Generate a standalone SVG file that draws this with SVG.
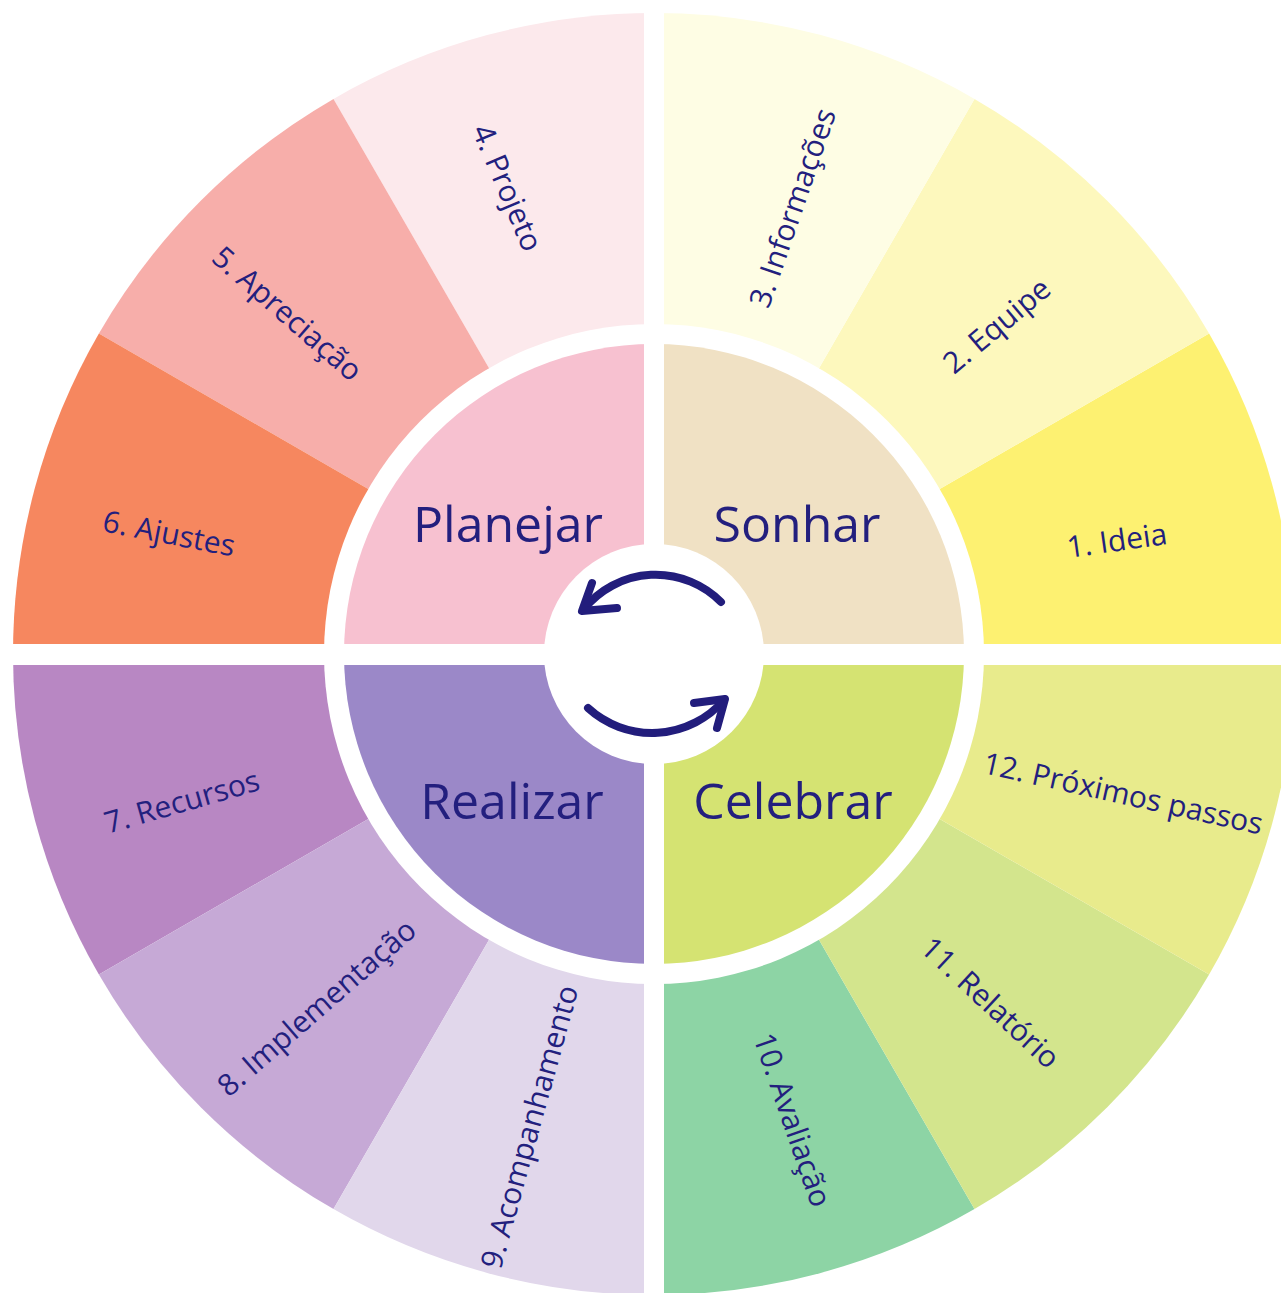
<svg xmlns="http://www.w3.org/2000/svg" width="1281" height="1293" viewBox="0 0 1281 1293">
  <style>
    .lbl { font-family: "Open Sans", "Noto Sans", "DejaVu Sans", sans-serif; font-size: 30px; fill: #231f7e; text-anchor: middle; }
    .big { font-family: "Open Sans", "Noto Sans", "DejaVu Sans", sans-serif; font-size: 50px; fill: #231f7e; text-anchor: middle; }
    .arrow { fill: none; stroke: #221d7c; stroke-width: 8; stroke-linecap: round; stroke-linejoin: round; }
    .gap { fill: #ffffff; }
  </style>
  <rect x="0" y="0" width="1281" height="1293" fill="#ffffff"/>

  <!-- outer wedges -->
  <g id="step-1">
    <path d="M654 654 L1295 654 A641 641 0 0 0 1209.1 333.5 Z" fill="#fdf171"/>
  </g>
  <g id="step-2">
    <path d="M654 654 L1209.1 333.5 A641 641 0 0 0 974.5 98.9 Z" fill="#fdf8bd"/>
  </g>
  <g id="step-3">
    <path d="M654 654 L974.5 98.9 A641 641 0 0 0 654 13 Z" fill="#fefde4"/>
  </g>
  <g id="step-4">
    <path d="M654 654 L654 13 A641 641 0 0 0 333.5 98.9 Z" fill="#fce9ec"/>
  </g>
  <g id="step-5">
    <path d="M654 654 L333.5 98.9 A641 641 0 0 0 98.9 333.5 Z" fill="#f7aeaa"/>
  </g>
  <g id="step-6">
    <path d="M654 654 L98.9 333.5 A641 641 0 0 0 13 654 Z" fill="#f6875f"/>
  </g>
  <g id="step-7">
    <path d="M654 654 L13 654 A641 641 0 0 0 98.9 974.5 Z" fill="#b887c3"/>
  </g>
  <g id="step-8">
    <path d="M654 654 L98.9 974.5 A641 641 0 0 0 333.5 1209.1 Z" fill="#c6a9d6"/>
  </g>
  <g id="step-9">
    <path d="M654 654 L333.5 1209.1 A641 641 0 0 0 654 1295 Z" fill="#e1d7eb"/>
  </g>
  <g id="step-10">
    <path d="M654 654 L654 1295 A641 641 0 0 0 974.5 1209.1 Z" fill="#8dd4a5"/>
  </g>
  <g id="step-11">
    <path d="M654 654 L974.5 1209.1 A641 641 0 0 0 1209.1 974.5 Z" fill="#d3e58d"/>
  </g>
  <g id="step-12">
    <path d="M654 654 L1209.1 974.5 A641 641 0 0 0 1295 654 Z" fill="#e8eb8c"/>
  </g>

  <!-- white ring -->
  <circle cx="654" cy="654" r="330" fill="#ffffff"/>

  <!-- inner quadrants -->
  <g id="sonhar">
    <path d="M654 654 L964 654 A310 310 0 0 0 654 344 Z" fill="#f0e1c4"/>
  </g>
  <g id="planejar">
    <path d="M654 654 L654 344 A310 310 0 0 0 344 654 Z" fill="#f7c1d0"/>
  </g>
  <g id="realizar">
    <path d="M654 654 L344 654 A310 310 0 0 0 654 964 Z" fill="#9b88c8"/>
  </g>
  <g id="celebrar">
    <path d="M654 654 L654 964 A310 310 0 0 0 964 654 Z" fill="#d5e372"/>
  </g>

  <!-- center hole and separating gaps -->
  <circle cx="654" cy="654" r="110" fill="#ffffff"/>
  <rect class="gap" x="644" y="0" width="20" height="1293"/>
  <rect class="gap" x="0" y="644" width="1281" height="21"/>

  <!-- labels -->
  <g id="labels-outer">
    <text class="lbl" transform="translate(1117 541) rotate(-8)" y="10">1. Ideia</text>
    <text class="lbl" transform="translate(997 326) rotate(-40)" y="10">2. Equipe</text>
    <text class="lbl" transform="translate(793 208) rotate(-71)" y="10">3. Informações</text>
    <text class="lbl" transform="translate(507 188) rotate(67)" y="10">4. Projeto</text>
    <text class="lbl" transform="translate(287 314) rotate(41)" y="10">5. Apreciação</text>
    <text class="lbl" transform="translate(169 534) rotate(11)" y="10">6. Ajustes</text>
    <text class="lbl" transform="translate(182 802) rotate(-16)" y="10">7. Recursos</text>
    <text class="lbl" transform="translate(317 1008) rotate(-41)" y="10">8. Implementação</text>
    <text class="lbl" transform="translate(530 1127) rotate(-74.5)" y="10">9. Acompanhamento</text>
    <text class="lbl" transform="translate(792 1120) rotate(71)" y="10">10. Avaliação</text>
    <text class="lbl" transform="translate(990 1003) rotate(43)" y="10">11. Relatório</text>
    <text class="lbl" transform="translate(1123 794) rotate(12.5)" y="10">12. Próximos passos</text>
  </g>
  <g id="labels-inner">
    <text class="big" x="508" y="542">Planejar</text>
    <text class="big" x="797" y="542">Sonhar</text>
    <text class="big" x="512" y="819">Realizar</text>
    <text class="big" x="793" y="819">Celebrar</text>
  </g>

  <!-- connectors: cycle arrows -->
  <g id="connectors">
    <path class="arrow" d="M721 602 A92 92 0 0 0 584 609"/>
    <path class="arrow" d="M592 583 L582 611 L617 608"/>
    <path class="arrow" d="M588 708 A95 95 0 0 0 724 700"/>
    <path class="arrow" d="M694 703 L725 699 L717 728"/>
  </g>
</svg>
